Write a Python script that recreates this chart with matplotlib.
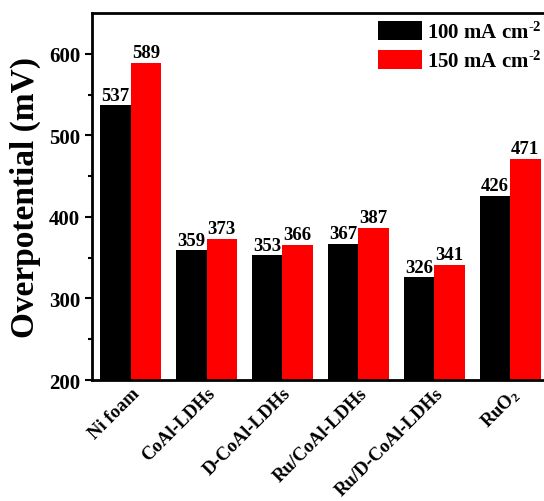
import numpy as np
import matplotlib
matplotlib.use('Agg')
import matplotlib.pyplot as plt
from matplotlib.transforms import ScaledTranslation

plt.rcParams['font.family'] = 'Liberation Serif'
plt.rcParams['font.weight'] = 'bold'
plt.rcParams['mathtext.fontset'] = 'custom'
plt.rcParams['mathtext.rm'] = 'Liberation Serif:bold'
plt.rcParams['mathtext.it'] = 'Liberation Serif:bold'
plt.rcParams['mathtext.bf'] = 'Liberation Serif:bold'

samples = ['Ni foam', 'CoAl-LDHs', 'D-CoAl-LDHs', 'Ru/CoAl-LDHs',
           'Ru/D-CoAl-LDHs', 'RuO$_2$']
eta_100 = [537, 359, 353, 367, 326, 426]
eta_150 = [589, 373, 366, 387, 341, 471]
series_labels = ['100 mA cm$^{\u20102}$', '150 mA cm$^{\u20102}$']

fig = plt.figure(figsize=(5.44, 5.02), dpi=100)
ax = fig.add_axes([0.169, 0.241, 0.840, 0.731])

x = np.arange(len(samples))
w = 0.40
b1 = ax.bar(x - w/2, eta_100, w, color='black', label=series_labels[0])
b2 = ax.bar(x + w/2, eta_150, w, color='#ff0000', label=series_labels[1])

for bars, vals in [(b1, eta_100), (b2, eta_150)]:
    for b, v in zip(bars, vals):
        ax.text(b.get_x() + b.get_width()/2, v + 2, str(v), ha='center', va='bottom',
                fontsize=13.5, fontweight='bold')

ax.set_xlim(-0.51, len(samples) - 0.49)
ax.set_ylim(200, 650)
ax.set_yticks([200, 300, 400, 500, 600])
ax.set_yticks([250, 350, 450, 550], minor=True)
ax.set_xticks(x)
ax.set_xticklabels(samples, rotation=45, ha='right', rotation_mode='anchor',
                   fontsize=13.5, fontweight='bold')
# nudge the slanted names a little to the right
shift = ScaledTranslation(6/100, 0, fig.dpi_scale_trans)
for lab in ax.get_xticklabels():
    lab.set_transform(lab.get_transform() + shift)
ax.tick_params(axis='y', which='major', direction='out', length=5, width=1.5,
               labelsize=15)
ax.tick_params(axis='y', which='minor', direction='out', length=3, width=1.5)
ax.tick_params(axis='x', length=0, pad=3)
for s in ax.spines.values():
    s.set_linewidth(2)

ax.set_ylabel('Overpotential (mV)', fontsize=24, fontweight='bold', labelpad=6)

ax.legend(loc='upper left', bbox_to_anchor=(0.608, 1.0), frameon=False,
          fontsize=15, handlelength=2.1, handleheight=1.0, labelspacing=0.35,
          handletextpad=0.25, borderaxespad=0.0)

fig.savefig('out.png', dpi=100)
